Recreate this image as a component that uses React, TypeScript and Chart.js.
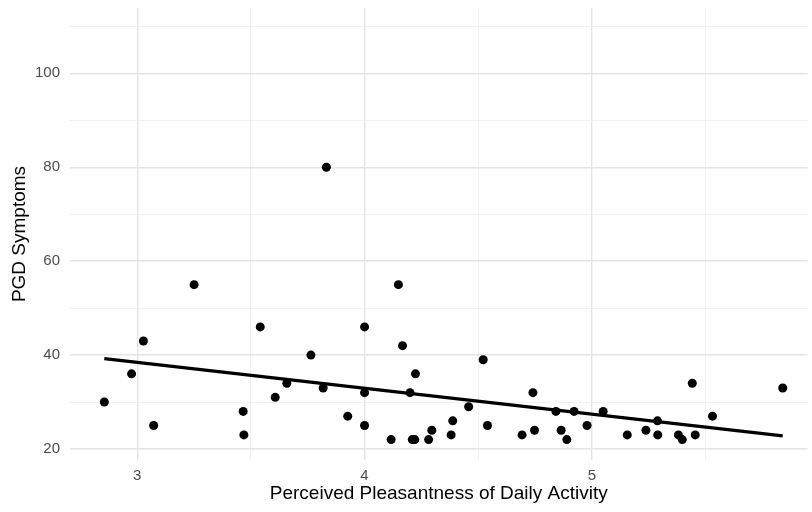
import React, { useEffect, useRef } from "react";
import { Chart, registerables } from "chart.js";

Chart.register(...registerables);

const pleasantness = [
  2.855, 2.975, 3.027, 3.072, 3.25, 3.466, 3.469, 3.541, 3.607, 3.658,
  3.764, 3.818, 3.832, 3.926, 4.0, 4.0, 4.0, 4.117, 4.149, 4.167,
  4.2, 4.224, 4.21, 4.221, 4.282, 4.296, 4.381, 4.388, 4.458, 4.522,
  4.541, 4.693, 4.741, 4.748, 4.842, 4.865, 4.89, 4.922, 4.979, 5.05,
  5.156, 5.238, 5.289, 5.29, 5.381, 5.398, 5.442, 5.455, 5.531, 5.84,
];
const pgdSymptoms = [
  30, 36, 43, 25, 55, 28, 23, 46, 31, 34,
  40, 33, 80, 27, 46, 32, 25, 22, 55, 42,
  32, 36, 22, 22, 22, 24, 23, 26, 29, 39,
  25, 23, 32, 24, 28, 24, 22, 28, 25, 28,
  23, 24, 26, 23, 23, 22, 34, 23, 27, 33,
];
const trendX = [2.855, 5.84];
const trendY = [39.25, 22.8];

const xGridValues = [3, 3.5, 4, 4.5, 5, 5.5];
const xLabelValues = [3, 4, 5];
const yGridValues = [20, 30, 40, 50, 60, 70, 80, 90, 100, 110];
const yLabelValues = [20, 40, 60, 80, 100];

const xTitle = "Perceived Pleasantness of Daily Activity";
const yTitle = "PGD Symptoms";

export default function App() {
  const ref = useRef<HTMLCanvasElement | null>(null);

  useEffect(() => {
    if (!ref.current) return;
    Chart.defaults.font.family = "'Liberation Sans', Arial, sans-serif";
    const points = pleasantness.map((x, i) => ({ x, y: pgdSymptoms[i] }));
    const trend = trendX.map((x, i) => ({ x, y: trendY[i] }));

    const gridColor = (vals: number[]) => (ctx: any) =>
      vals.includes(ctx.tick?.value) ? "#e4e4e4" : "#eeeeee";
    const gridWidth = (vals: number[]) => (ctx: any) =>
      vals.includes(ctx.tick?.value) ? 1.4 : 0.8;

    const chart = new Chart(ref.current, {
      type: "scatter",
      data: {
        datasets: [
          {
            type: "line",
            data: trend,
            borderColor: "#000000",
            borderWidth: 3.3,
            pointRadius: 0,
            showLine: true,
            fill: false,
            order: 0,
          } as any,
          {
            data: points,
            backgroundColor: "#000000",
            borderWidth: 0,
            pointRadius: 4.5,
            order: 1,
          },
        ],
      },
      options: {
        responsive: false,
        animation: false,
        devicePixelRatio: 1,
        layout: { padding: { top: 8, left: 0, right: 0, bottom: 0 } },
        plugins: {
          legend: { display: false },
          tooltip: { enabled: false },
        },
        scales: {
          x: {
            type: "linear",
            min: 2.704,
            max: 5.949,
            afterFit: (s: any) => {
              s.height = 52;
              s.paddingLeft = 0;
              s.paddingRight = 0;
            },
            afterBuildTicks: (s: any) => {
              s.ticks = xGridValues.map((v) => ({ value: v }));
            },
            border: { display: false },
            grid: {
              drawTicks: false,
              color: gridColor(xLabelValues),
              lineWidth: gridWidth(xLabelValues),
            },
            ticks: {
              autoSkip: false,
              maxRotation: 0,
              padding: 7,
              color: "#4d4d4d",
              font: { size: 15 },
              callback: (v: any) =>
                xLabelValues.includes(Number(v)) ? String(v) : "",
            },
            title: {
              display: true,
              text: xTitle,
              color: "#000000",
              font: { size: 19 },
              padding: { top: 0, bottom: 7 },
            },
          },
          y: {
            type: "linear",
            min: 17.66,
            max: 113.9,
            afterFit: (s: any) => {
              s.width = 70;
              s.paddingTop = 0;
              s.paddingBottom = 0;
            },
            afterBuildTicks: (s: any) => {
              s.ticks = yGridValues.map((v) => ({ value: v }));
            },
            border: { display: false },
            grid: {
              drawTicks: false,
              color: gridColor(yLabelValues),
              lineWidth: gridWidth(yLabelValues),
            },
            ticks: {
              autoSkip: false,
              padding: 10,
              color: "#4d4d4d",
              font: { size: 15 },
              callback: (v: any) =>
                yLabelValues.includes(Number(v)) ? String(v) : "",
            },
            title: {
              display: true,
              text: yTitle,
              color: "#000000",
              font: { size: 19 },
              padding: { top: 8, bottom: 0 },
            },
          },
        },
      },
    });
    return () => chart.destroy();
  }, []);

  return (
    <div style={{ position: "absolute", left: 0, top: 0, width: 812, height: 512, background: "#ffffff" }}>
      <canvas ref={ref} width={812} height={512} style={{ display: "block" }} />
    </div>
  );
}
